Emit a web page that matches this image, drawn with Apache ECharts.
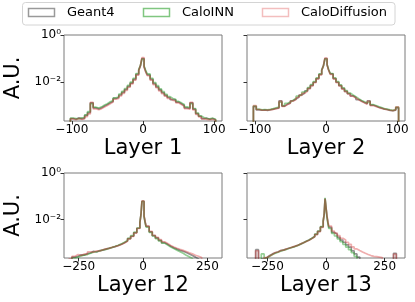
<!DOCTYPE html>
<html><head><meta charset="utf-8">
<script src="https://cdn.jsdelivr.net/npm/echarts@6/dist/echarts.min.js"></script>
<style>html,body{margin:0;padding:0;background:#fff}#c{width:415px;height:302px}</style>
</head><body><div id="c"></div>
<script>
const seriesNames = ['Geant4', 'CaloINN', 'CaloDiffusion'];
const layerTitles = ['Layer 1', 'Layer 2', 'Layer 12', 'Layer 13'];
const xTicksTop = [-100, 0, 100];
const xTicksBottom = [-250, 0, 250];
const yTickValues = [0.01, 1];
const yTickLabels = ['10\u207B\u00B2', '10\u2070'];

// bin edges (Layers 1 & 2)
const edgesTop = [-102,-98,-94,-90,-86,-82,-78,-74,-70,-66,-62,-58,-54,-50,-46,-42,-38,-34,-30,-26,-22,-18,-14,-10,-6,-3.5,-1.5,1.5,3.5,6,10,14,18,22,26,30,34,38,42,46,50,54,58,62,66,70,74,78,82,86,90,94,98,102];
// bin edges (Layers 12 & 13)
const edgesBottom = [-300,-288,-276,-264,-252,-240,-228,-216,-204,-192,-180,-168,-156,-144,-132,-120,-108,-96,-84,-72,-60,-48,-36,-24,-12,-8,-4,4,8,12,24,36,48,60,72,84,96,108,120,132,144,156,168,180,192,204,216,228,240,252,264,276,288,300];

const layer1Geant4 = [2.8e-4,2.6e-4,3.0e-4,2.7e-4,2.9e-4,3.8e-4,5.0e-4,1.3e-3,8.0e-4,7.2e-4,8.0e-4,9.5e-4,1.1e-3,1.3e-3,1.5e-3,2.0e-3,2.2e-3,2.8e-3,3.6e-3,4.8e-3,6.5e-3,9.0e-3,1.3e-2,2.1e-2,3.2e-2,5.0e-2,1.0e-1,4.5e-2,3.0e-2,2.0e-2,1.3e-2,8.5e-3,6.2e-3,4.6e-3,3.5e-3,2.7e-3,2.2e-3,1.8e-3,1.75e-3,1.4e-3,1.2e-3,1.0e-3,8.0e-4,7.5e-4,1.3e-3,7.0e-4,4.5e-4,3.5e-4,2.8e-4,2.9e-4,2.6e-4,2.8e-4,2.5e-4];
const layer1CaloINN = [2.9e-4,2.8e-4,2.7e-4,3.0e-4,3.1e-4,4.0e-4,5.5e-4,1.2e-3,8.5e-4,7.8e-4,8.8e-4,1.05e-3,1.2e-3,1.45e-3,1.65e-3,2.1e-3,2.4e-3,3.1e-3,4.0e-3,5.3e-3,7.2e-3,1.0e-2,1.45e-2,2.3e-2,3.4e-2,5.2e-2,9.5e-2,4.8e-2,3.3e-2,2.2e-2,1.45e-2,9.5e-3,7.0e-3,5.1e-3,3.9e-3,3.0e-3,2.4e-3,2.0e-3,1.85e-3,1.5e-3,1.3e-3,1.1e-3,8.8e-4,8.0e-4,1.2e-3,7.5e-4,4.8e-4,3.6e-4,3.0e-4,2.8e-4,2.7e-4,2.9e-4,2.6e-4];
const layer1CaloDiffusion = [2.7e-4,2.5e-4,2.8e-4,2.6e-4,2.7e-4,3.4e-4,4.4e-4,1.35e-3,7.2e-4,6.6e-4,7.4e-4,8.7e-4,1.0e-3,1.2e-3,1.4e-3,1.85e-3,2.0e-3,2.55e-3,3.3e-3,4.4e-3,6.0e-3,8.3e-3,1.2e-2,1.95e-2,3.0e-2,5.2e-2,1.1e-1,4.3e-2,2.8e-2,1.85e-2,1.2e-2,7.8e-3,5.7e-3,4.2e-3,3.2e-3,2.5e-3,2.0e-3,1.65e-3,1.6e-3,1.3e-3,1.1e-3,9.2e-4,7.4e-4,7.0e-4,1.35e-3,6.5e-4,4.2e-4,3.3e-4,2.7e-4,2.6e-4,2.5e-4,2.6e-4,2.4e-4];

const layer2Geant4 = [9.0e-4,6.5e-4,6.3e-4,6.5e-4,6.2e-4,6.6e-4,7.0e-4,7.5e-4,8.0e-4,1.6e-3,9.5e-4,1.15e-3,1.3e-3,1.6e-3,1.9e-3,2.3e-3,2.8e-3,3.4e-3,4.2e-3,5.4e-3,7.2e-3,9.8e-3,1.4e-2,2.1e-2,3.2e-2,5.0e-2,1.0e-1,5.5e-2,3.4e-2,2.2e-2,1.4e-2,9.8e-3,7.0e-3,5.2e-3,4.0e-3,3.2e-3,2.6e-3,2.2e-3,1.8e-3,1.55e-3,1.35e-3,1.2e-3,1.6e-3,1.05e-3,9.5e-4,8.5e-4,7.8e-4,7.0e-4,6.8e-4,6.2e-4,6.0e-4,6.4e-4,8.0e-4];
const layer2CaloINN = [9.5e-4,7.0e-4,6.6e-4,6.8e-4,6.6e-4,6.9e-4,7.4e-4,8.0e-4,8.6e-4,1.4e-3,1.0e-3,1.25e-3,1.4e-3,1.7e-3,2.05e-3,2.5e-3,3.0e-3,3.7e-3,4.5e-3,5.8e-3,7.7e-3,1.05e-2,1.5e-2,2.2e-2,3.3e-2,5.0e-2,9.5e-2,5.6e-2,3.5e-2,2.3e-2,1.5e-2,1.05e-2,7.5e-3,5.6e-3,4.3e-3,3.4e-3,2.8e-3,2.35e-3,1.95e-3,1.65e-3,1.45e-3,1.3e-3,1.5e-3,1.1e-3,1.0e-3,9.0e-4,8.2e-4,7.4e-4,7.0e-4,6.5e-4,6.2e-4,6.6e-4,8.5e-4];
const layer2CaloDiffusion = [1.0e-3,6.8e-4,6.4e-4,6.3e-4,6.4e-4,6.5e-4,6.9e-4,7.4e-4,7.8e-4,1.5e-3,9.2e-4,1.1e-3,1.25e-3,1.55e-3,1.8e-3,2.2e-3,2.7e-3,3.3e-3,4.0e-3,5.2e-3,6.9e-3,9.4e-3,1.35e-2,2.0e-2,3.1e-2,5.2e-2,1.05e-1,5.3e-2,3.3e-2,2.1e-2,1.35e-2,9.4e-3,6.8e-3,5.0e-3,3.9e-3,3.1e-3,2.5e-3,2.1e-3,1.75e-3,1.5e-3,1.3e-3,1.15e-3,1.5e-3,1.0e-3,9.2e-4,8.3e-4,7.6e-4,7.1e-4,6.6e-4,6.3e-4,6.1e-4,6.5e-4,8.8e-4];

const layer12Geant4 = [0,1.9e-4,2.4e-4,2.6e-4,3.0e-4,2.9e-4,3.4e-4,3.6e-4,4.3e-4,4.0e-4,4.6e-4,4.8e-4,5.3e-4,5.8e-4,6.2e-4,6.8e-4,7.6e-4,8.6e-4,1.0e-3,1.2e-3,1.5e-3,1.9e-3,2.7e-3,4.2e-3,7.5e-3,1.6e-2,6.1e-2,1.4e-2,8.0e-3,5.0e-3,2.9e-3,2.0e-3,1.6e-3,1.25e-3,1.0e-3,8.5e-4,7.0e-4,6.0e-4,5.3e-4,4.7e-4,4.3e-4,3.8e-4,3.3e-4,2.8e-4,2.4e-4,2.0e-4,0,0,0,0,0,0,0];
const layer12CaloINN = [0,0,2.2e-4,2.4e-4,2.7e-4,3.0e-4,3.1e-4,3.5e-4,3.9e-4,4.1e-4,4.4e-4,4.9e-4,5.2e-4,5.7e-4,6.3e-4,7.0e-4,7.8e-4,8.9e-4,1.05e-3,1.25e-3,1.55e-3,2.0e-3,2.8e-3,4.3e-3,7.8e-3,1.55e-2,6.0e-2,1.35e-2,7.6e-3,4.7e-3,2.8e-3,1.95e-3,1.5e-3,1.2e-3,9.6e-4,8.0e-4,6.6e-4,5.6e-4,4.8e-4,4.1e-4,3.5e-4,2.9e-4,2.5e-4,2.1e-4,0,0,0,0,0,0,0,0,0];
const layer12CaloDiffusion = [0,2.0e-4,2.6e-4,3.1e-4,2.8e-4,3.3e-4,3.2e-4,4.0e-4,3.9e-4,4.5e-4,4.4e-4,5.0e-4,5.4e-4,5.7e-4,6.4e-4,6.9e-4,7.5e-4,8.4e-4,9.8e-4,1.15e-3,1.45e-3,1.85e-3,2.6e-3,4.1e-3,7.3e-3,1.6e-2,6.3e-2,1.45e-2,8.3e-3,5.2e-3,3.1e-3,2.1e-3,1.7e-3,1.35e-3,1.1e-3,9.2e-4,7.6e-4,6.6e-4,5.8e-4,5.2e-4,4.7e-4,4.2e-4,3.7e-4,3.3e-4,2.9e-4,2.6e-4,2.3e-4,0,0,0,0,0,0];

const layer13Geant4 = [5.0e-4,0,2.0e-4,2.3e-4,2.8e-4,3.3e-4,3.7e-4,4.1e-4,4.6e-4,4.9e-4,5.4e-4,5.9e-4,6.4e-4,7.0e-4,7.8e-4,8.8e-4,1.0e-3,1.15e-3,1.3e-3,1.55e-3,1.85e-3,2.3e-3,3.1e-3,4.8e-3,8.5e-3,1.6e-2,8.0e-2,1.4e-2,7.5e-3,4.6e-3,2.8e-3,2.3e-3,1.7e-3,1.3e-3,1.05e-3,8.0e-4,6.5e-4,4.5e-4,3.3e-4,2.4e-4,0,0,0,0,0,0,0,0,0,0,0,0,3.5e-4];
const layer13CaloINN = [0,0,3.3e-4,2.2e-4,2.6e-4,3.1e-4,3.5e-4,3.9e-4,4.4e-4,4.8e-4,5.2e-4,5.8e-4,6.3e-4,6.9e-4,7.7e-4,8.7e-4,9.9e-4,1.15e-3,1.3e-3,1.55e-3,1.85e-3,2.35e-3,3.2e-3,4.9e-3,8.8e-3,1.5e-2,8.5e-2,1.25e-2,6.8e-3,4.1e-3,2.5e-3,1.95e-3,1.45e-3,1.1e-3,8.5e-4,6.5e-4,5.0e-4,3.7e-4,2.6e-4,0,0,0,0,0,0,0,0,0,0,0,0,0,0];
const layer13CaloDiffusion = [4.5e-4,0,0,2.3e-4,2.7e-4,3.2e-4,3.8e-4,4.0e-4,4.7e-4,4.8e-4,5.5e-4,5.8e-4,6.5e-4,7.1e-4,7.7e-4,8.9e-4,1.0e-3,1.12e-3,1.28e-3,1.5e-3,1.8e-3,2.25e-3,3.0e-3,4.6e-3,8.2e-3,1.65e-2,7.8e-2,1.5e-2,8.2e-3,5.2e-3,3.2e-3,2.6e-3,2.0e-3,1.55e-3,1.3e-3,1.05e-3,8.5e-4,6.6e-4,5.4e-4,4.6e-4,4.0e-4,3.5e-4,3.1e-4,2.8e-4,2.6e-4,2.5e-4,2.4e-4,2.3e-4,0,0,0,0,3.2e-4];

const seriesColors = ['rgba(0,0,0,0.42)', 'rgba(44,160,44,0.5)', 'rgba(214,39,40,0.38)'];
const legendColors = ['rgba(0,0,0,0.4)', 'rgba(44,160,44,0.6)', 'rgba(214,39,40,0.3)'];

const panels = [
  { edges: edgesTop, data: [layer1Geant4, layer1CaloINN, layer1CaloDiffusion], xMin: -111, xMax: 111, ticks: xTicksTop, left: 64, top: 35, height: 86, yLabels: true },
  { edges: edgesTop, data: [layer2Geant4, layer2CaloINN, layer2CaloDiffusion], xMin: -111, xMax: 111, ticks: xTicksTop, left: 247, top: 35, height: 86, yLabels: false },
  { edges: edgesBottom, data: [layer12Geant4, layer12CaloINN, layer12CaloDiffusion], xMin: -307, xMax: 307, ticks: xTicksBottom, left: 64, top: 173, height: 85, yLabels: true },
  { edges: edgesBottom, data: [layer13Geant4, layer13CaloINN, layer13CaloDiffusion], xMin: -337, xMax: 337, ticks: xTicksBottom, left: 247, top: 173, height: 85, yLabels: false }
];

const FONT = 'DejaVu Sans';
const BELOW = 1e-7; // empty bins fall below the axis and are clipped

function steps(edges, vals) {
  const pts = [[edges[0], BELOW]];
  for (let i = 0; i < vals.length; i++) pts.push([edges[i], vals[i] > 0 ? vals[i] : BELOW]);
  pts.push([edges[edges.length - 1], vals[vals.length - 1] > 0 ? vals[vals.length - 1] : BELOW]);
  pts.push([edges[edges.length - 1], BELOW]);
  return pts;
}
const minus = v => (v < 0 ? '\u2212' + Math.abs(v) : String(v));

const grid = [], xAxis = [], yAxis = [], series = [];
panels.forEach((p, i) => {
  grid.push({ left: p.left, top: p.top, width: 158, height: p.height, show: true, borderColor: '#7a7a7a', borderWidth: 1, backgroundColor: 'transparent' });
  xAxis.push({
    gridIndex: i, type: 'value', min: p.xMin, max: p.xMax,
    axisLine: { show: false, onZero: false }, splitLine: { show: false },
    axisTick: { show: true, length: 3.5, customValues: p.ticks, lineStyle: { color: '#333', width: 1 } },
    axisLabel: { customValues: p.ticks, fontSize: 12, color: '#000', fontFamily: FONT, margin: 3, formatter: minus },
    name: layerTitles[i], nameLocation: 'middle', nameGap: 17,
    nameTextStyle: { fontSize: 21, color: '#000', fontFamily: FONT, verticalAlign: 'top' }
  });
  yAxis.push({
    gridIndex: i, type: 'log', min: 2.2e-4, max: 1,
    axisLine: { show: false, onZero: false }, splitLine: { show: false },
    axisTick: { show: true, length: 3.5, customValues: yTickValues, lineStyle: { color: '#333', width: 1 } },
    axisLabel: { show: p.yLabels, customValues: yTickValues, fontSize: 12, color: '#000', fontFamily: FONT, margin: 3,
      formatter: v => { const k = yTickValues.findIndex(t => Math.abs(Math.log10(t) - Math.log10(v)) < 1e-6); return k >= 0 ? yTickLabels[k] : ''; } },
    name: p.yLabels ? 'A.U.' : '', nameLocation: 'middle', nameRotate: 90, nameGap: 40,
    nameTextStyle: { fontSize: 21, color: '#000', fontFamily: FONT }
  });
  p.data.forEach((vals, s) => {
    series.push({
      name: seriesNames[s], type: 'line', xAxisIndex: i, yAxisIndex: i, step: 'end',
      showSymbol: false, symbol: 'none', clip: true, animation: false, silent: true,
      lineStyle: { color: seriesColors[s], width: 1.7 },
      data: steps(p.edges, vals)
    });
  });
});

const legendX = [28, 143, 262];
const graphic = [{ type: 'rect', shape: { x: 22.5, y: 2.5, width: 372.5, height: 22.5, r: 3 }, style: { fill: 'rgba(255,255,255,0.8)', stroke: '#d4d4d4', lineWidth: 1 }, z: 10 }];
seriesNames.forEach((n, s) => {
  graphic.push({ type: 'rect', shape: { x: legendX[s] + 0.5, y: 8.5, width: 26, height: 8 }, style: { fill: 'none', stroke: legendColors[s], lineWidth: 1.5 }, z: 11 });
  graphic.push({ type: 'text', x: legendX[s] + 39, y: 13, style: { text: n, fontSize: 13, fontFamily: FONT, fill: '#000', verticalAlign: 'middle', align: 'left' }, z: 11 });
});

const chart = echarts.init(document.getElementById('c'), null, { renderer: 'canvas' });
chart.setOption({ animation: false, textStyle: { fontFamily: FONT }, grid, xAxis, yAxis, series, graphic });
</script></body></html>
